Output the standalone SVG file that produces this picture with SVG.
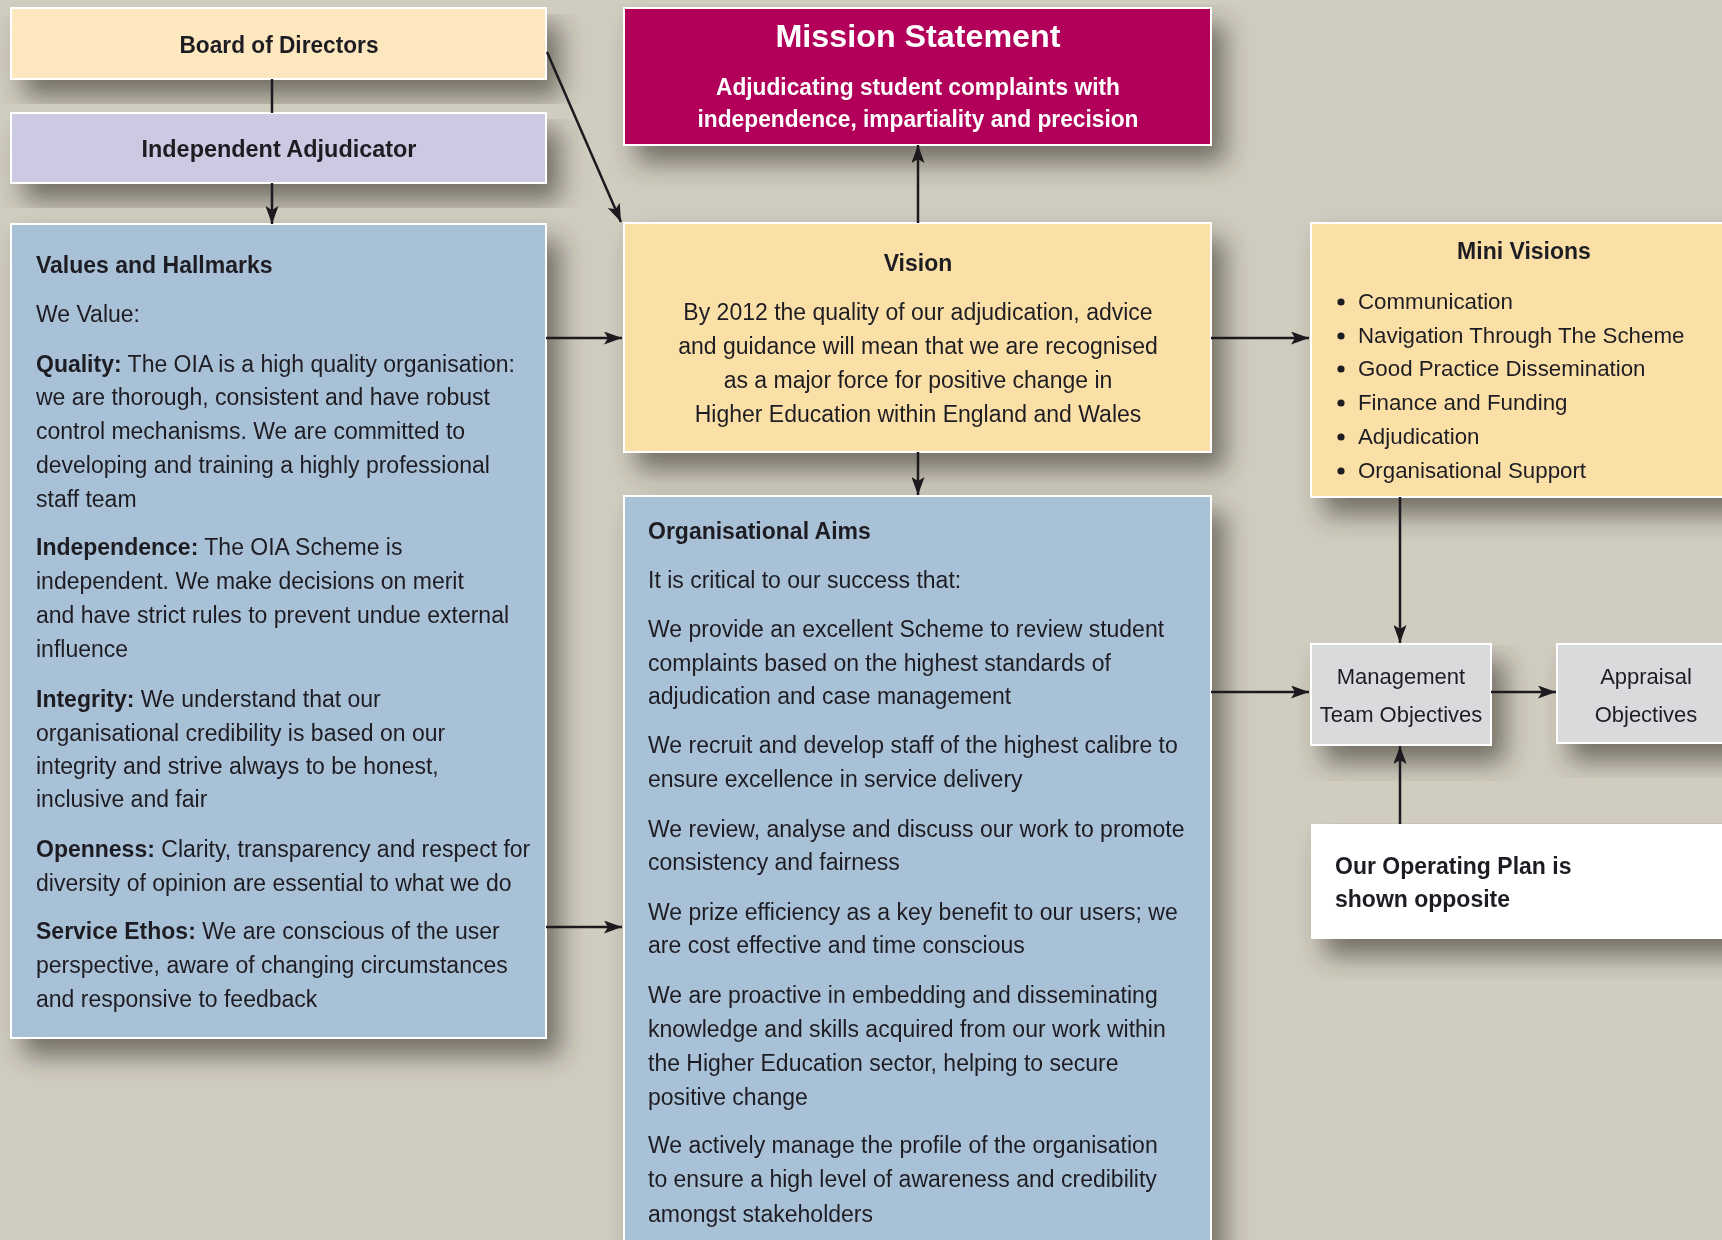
<svg xmlns="http://www.w3.org/2000/svg" width="1722" height="1240" viewBox="0 0 1722 1240">
<defs>
<filter id="sh" x="-15%" y="-15%" width="140%" height="150%">
<feGaussianBlur in="SourceAlpha" stdDeviation="13"/>
<feOffset dx="13" dy="17" result="b"/>
<feFlood flood-color="#3b362c" flood-opacity="0.62"/>
<feComposite in2="b" operator="in" result="s"/>
<feMerge><feMergeNode in="s"/><feMergeNode in="SourceGraphic"/></feMerge>
</filter>
<marker id="ah" markerUnits="userSpaceOnUse" markerWidth="18" markerHeight="13" refX="18" refY="6.5" orient="auto">
<path d="M0,0 L18,6.5 L0,13 L4,6.5 z" fill="#1c1a1f"/>
</marker>
<style>
.box{stroke:#ffffff;stroke-width:2}
.t{font-family:"Liberation Sans",Arial,sans-serif;font-size:23px;fill:#1f1d24}
.s{font-size:22.3px}
.m{font-size:22px}
.b{font-weight:bold}
.c{text-anchor:middle}
.w{fill:#ffffff}
.ln{stroke:#1c1a1f;stroke-width:2.5;fill:none}
.ar{marker-end:url(#ah)}
</style>
</defs>
<rect x="0" y="0" width="1722" height="1240" fill="#d0ccc0"/>

<g id="board" filter="url(#sh)">
<rect class="box" x="11" y="8" width="535" height="71" fill="#fde7bf"/>
<text class="t b c" x="279" y="53" textLength="199" lengthAdjust="spacingAndGlyphs">Board of Directors</text>
</g>

<g id="adjudicator" filter="url(#sh)">
<rect class="box" x="11" y="113" width="535" height="70" fill="#cdc9e2"/>
<text class="t b c" x="279" y="157" textLength="275" lengthAdjust="spacingAndGlyphs">Independent Adjudicator</text>
</g>

<g id="values" filter="url(#sh)">
<rect class="box" x="11" y="224" width="535" height="814" fill="#a9c1d6"/>
<text class="t b" x="36" y="273">Values and Hallmarks</text>
<text class="t" x="36" y="322">We Value:</text>
<text class="t" x="36" y="372"><tspan class="b">Quality:</tspan> The OIA is a high quality organisation:</text>
<text class="t" x="36" y="405">we are thorough, consistent and have robust</text>
<text class="t" x="36" y="439">control mechanisms. We are committed to</text>
<text class="t" x="36" y="473">developing and training a highly professional</text>
<text class="t" x="36" y="507">staff team</text>
<text class="t" x="36" y="555"><tspan class="b">Independence:</tspan> The OIA Scheme is</text>
<text class="t" x="36" y="589">independent. We make decisions on merit</text>
<text class="t" x="36" y="623">and have strict rules to prevent undue external</text>
<text class="t" x="36" y="657">influence</text>
<text class="t" x="36" y="707"><tspan class="b">Integrity:</tspan> We understand that our</text>
<text class="t" x="36" y="741">organisational credibility is based on our</text>
<text class="t" x="36" y="774">integrity and strive always to be honest,</text>
<text class="t" x="36" y="807">inclusive and fair</text>
<text class="t" x="36" y="857"><tspan class="b">Openness:</tspan> Clarity, transparency and respect for</text>
<text class="t" x="36" y="891">diversity of opinion are essential to what we do</text>
<text class="t" x="36" y="939"><tspan class="b">Service Ethos:</tspan> We are conscious of the user</text>
<text class="t" x="36" y="973">perspective, aware of changing circumstances</text>
<text class="t" x="36" y="1007">and responsive to feedback</text>
</g>

<g id="mission" filter="url(#sh)">
<rect class="box" x="624" y="8" width="587" height="137" fill="#b2005a"/>
<text class="t b c w" x="918" y="47" style="font-size:31px" textLength="285" lengthAdjust="spacingAndGlyphs">Mission Statement</text>
<text class="t b c w" x="918" y="95" style="font-size:24px" textLength="404" lengthAdjust="spacingAndGlyphs">Adjudicating student complaints with</text>
<text class="t b c w" x="918" y="127" style="font-size:24px" textLength="441" lengthAdjust="spacingAndGlyphs">independence, impartiality and precision</text>
</g>

<g id="vision" filter="url(#sh)">
<rect class="box" x="624" y="223" width="587" height="229" fill="#fae0a6"/>
<text class="t b c" x="918" y="271">Vision</text>
<text class="t c" x="918" y="320">By 2012 the quality of our adjudication, advice</text>
<text class="t c" x="918" y="354">and guidance will mean that we are recognised</text>
<text class="t c" x="918" y="388">as a major force for positive change in</text>
<text class="t c" x="918" y="422">Higher Education within England and Wales</text>
</g>

<g id="aims" filter="url(#sh)">
<rect class="box" x="624" y="496" width="587" height="770" fill="#a9c1d6"/>
<text class="t b" x="648" y="539">Organisational Aims</text>
<text class="t" x="648" y="588">It is critical to our success that:</text>
<text class="t" x="648" y="637">We provide an excellent Scheme to review student</text>
<text class="t" x="648" y="671">complaints based on the highest standards of</text>
<text class="t" x="648" y="704">adjudication and case management</text>
<text class="t" x="648" y="753">We recruit and develop staff of the highest calibre to</text>
<text class="t" x="648" y="787">ensure excellence in service delivery</text>
<text class="t" x="648" y="837">We review, analyse and discuss our work to promote</text>
<text class="t" x="648" y="870">consistency and fairness</text>
<text class="t" x="648" y="920">We prize efficiency as a key benefit to our users; we</text>
<text class="t" x="648" y="953">are cost effective and time conscious</text>
<text class="t" x="648" y="1003">We are proactive in embedding and disseminating</text>
<text class="t" x="648" y="1037">knowledge and skills acquired from our work within</text>
<text class="t" x="648" y="1071">the Higher Education sector, helping to secure</text>
<text class="t" x="648" y="1105">positive change</text>
<text class="t" x="648" y="1153">We actively manage the profile of the organisation</text>
<text class="t" x="648" y="1187">to ensure a high level of awareness and credibility</text>
<text class="t" x="648" y="1222">amongst stakeholders</text>
</g>

<g id="minivisions" filter="url(#sh)">
<rect class="box" x="1311" y="223" width="430" height="274" fill="#fae0a6"/>
<text class="t b c" x="1524" y="259">Mini Visions</text>
<g fill="#1f1d24">
<circle cx="1341" cy="302" r="3.6"/>
<circle cx="1341" cy="336" r="3.6"/>
<circle cx="1341" cy="369" r="3.6"/>
<circle cx="1341" cy="403" r="3.6"/>
<circle cx="1341" cy="437" r="3.6"/>
<circle cx="1341" cy="471" r="3.6"/>
</g>
<text class="t s" x="1358" y="309">Communication</text>
<text class="t s" x="1358" y="343">Navigation Through The Scheme</text>
<text class="t s" x="1358" y="376">Good Practice Dissemination</text>
<text class="t s" x="1358" y="410">Finance and Funding</text>
<text class="t s" x="1358" y="444">Adjudication</text>
<text class="t s" x="1358" y="478">Organisational Support</text>
</g>

<g id="management" filter="url(#sh)">
<rect class="box" x="1311" y="644" width="180" height="101" fill="#d9dadc"/>
<text class="t m c" x="1401" y="684">Management</text>
<text class="t m c" x="1401" y="722">Team Objectives</text>
</g>

<g id="appraisal" filter="url(#sh)">
<rect class="box" x="1557" y="644" width="180" height="99" fill="#d9dadc"/>
<text class="t m c" x="1646" y="684">Appraisal</text>
<text class="t m c" x="1646" y="722">Objectives</text>
</g>

<g id="operating" filter="url(#sh)">
<rect x="1311" y="824" width="430" height="115" fill="#ffffff"/>
<text class="t b" x="1335" y="874">Our Operating Plan is</text>
<text class="t b" x="1335" y="907">shown opposite</text>
</g>

<g id="connectors">
<line class="ln" x1="272" y1="79" x2="272" y2="113"/>
<line class="ln ar" x1="272" y1="183" x2="272" y2="224"/>
<line class="ln ar" x1="547" y1="52" x2="621" y2="222"/>
<line class="ln ar" x1="918" y1="223" x2="918" y2="145"/>
<line class="ln ar" x1="918" y1="452" x2="918" y2="495"/>
<line class="ln ar" x1="546" y1="338" x2="622" y2="338"/>
<line class="ln ar" x1="546" y1="927" x2="622" y2="927"/>
<line class="ln ar" x1="1211" y1="338" x2="1309" y2="338"/>
<line class="ln ar" x1="1211" y1="692" x2="1309" y2="692"/>
<line class="ln ar" x1="1400" y1="497" x2="1400" y2="643"/>
<line class="ln ar" x1="1491" y1="692" x2="1556" y2="692"/>
<line class="ln ar" x1="1400" y1="824" x2="1400" y2="746"/>
</g>
</svg>
